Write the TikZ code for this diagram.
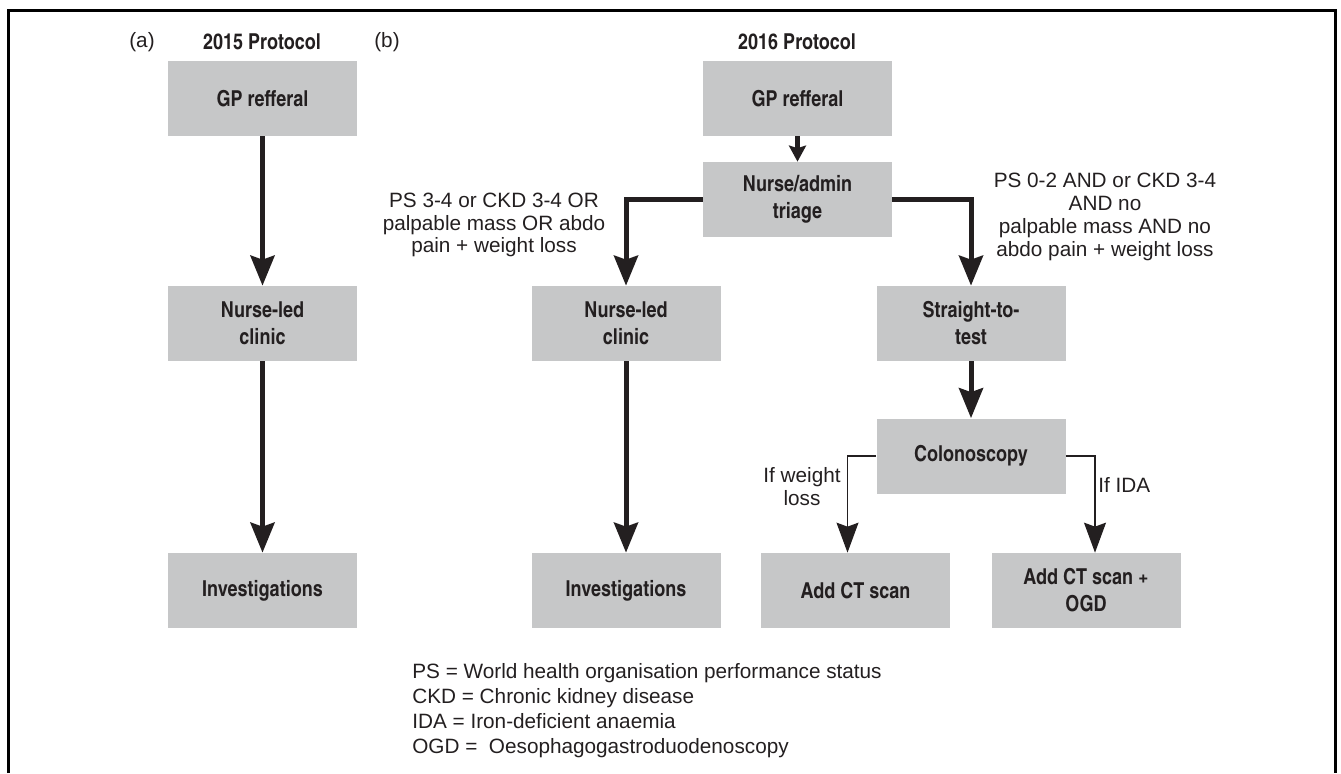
\documentclass[tikz,border=0pt]{standalone}
\usepackage{fontspec}
\setmainfont{Liberation Sans}
\newfontfamily\cnfont{texgyreheroscn}[Extension=.otf,UprightFont=*-regular,BoldFont=*-bold]
\usetikzlibrary{arrows.meta}
\definecolor{boxgray}{RGB}{198,199,200}
\definecolor{ink}{RGB}{35,31,32}

\begin{document}
\begin{tikzpicture}[x=0.2mm,y=-0.2mm,
  box/.style={fill=boxgray,minimum width=37.8mm,minimum height=15mm,inner sep=2pt,align=center,text=ink,font=\cnfont\bfseries\fontsize{12.5}{15.4}\selectfont},
  hdr/.style={text=ink,inner sep=0pt,font=\cnfont\bfseries\fontsize{12.5}{15.4}\selectfont},
  lbl/.style={align=center,text=ink,inner sep=0pt,font=\fontsize{11.8}{13}\selectfont},
  big/.style={line width=1mm,draw=ink,-{Stealth[length=6mm,width=4.8mm,inset=0.8mm]}},
  small/.style={line width=1mm,draw=ink,-{Stealth[length=3.2mm,width=3.4mm,inset=0.5mm]}},
  thin/.style={line width=0.25mm,draw=ink,-{Stealth[length=6mm,width=4.4mm,inset=0.8mm]}}]
\useasboundingbox (0,0) rectangle (1341,773);
\draw[line width=0.6mm] (8,773) -- (8,10) -- (1335,10) -- (1335,773);
% headings
\node[lbl] (hda) at (142,42) {(a)};
\node[hdr] (ttla) at (262,42) {2015 Protocol};
\node[lbl] (hdb) at (387,42) {(b)};
\node[hdr] (ttlb) at (797,42) {2016 Protocol};
% 2015 protocol
\node[box] (gpa) at (262.5,98.5) {GP refferal};
\node[box] (nursea) at (262.5,323.5) {Nurse-led\\clinic};
\node[box] (inva) at (262.5,590.5) {Investigations};
\draw[big] (gpa) -- (nursea);
\draw[big] (nursea) -- (inva);
% 2016 protocol
\node[box] (gpb) at (797.5,98.5) {GP refferal};
\node[box] (triage) at (797.5,199.5) {Nurse/admin\\triage};
\node[box] (nurseb) at (626,323.5) {Nurse-led\\clinic};
\node[box] (invb) at (626,590.5) {Investigations};
\node[box] (stt) at (971,323.5) {Straight-to-\\test};
\node[box] (colon) at (971,456) {Colonoscopy};
\node[box] (ct) at (855.5,590.5) {Add CT scan};
\node[box] (ctogd) at (1086,590.5) {Add CT scan +\\OGD};
\draw[small] (gpb) -- (triage);
\draw[big] (triage.west) -| (nurseb.north);
\draw[big] (triage.east) -| (stt.north);
\draw[big] (nurseb) -- (invb);
\draw[big] (stt) -- (colon);
\draw[thin] (colon.west) -| ([xshift=-1.6mm]ct.north);
\draw[thin] (colon.east) -| ([xshift=1.8mm]ctogd.north);
% conditions
\node[lbl] (condl) at (494,225) {PS 3-4 or CKD 3-4 OR\\palpable mass OR abdo\\pain + weight loss};
\node[lbl] (condr) at (1105,217) {PS 0-2 AND or CKD 3-4\\AND no\\palpable mass AND no\\abdo pain + weight loss};
\node[lbl] (ifwl) at (802,487) {If weight\\loss};
\node[lbl,anchor=west] (ifida) at (1098,485) {If IDA};
% key
\node[lbl,anchor=west,align=left,font=\fontsize{11.8}{14.2}\selectfont] (key) at (412,711)
  {PS = World health organisation performance status\\CKD = Chronic kidney disease\\IDA = Iron-deficient anaemia\\OGD = \ Oesophagogastroduodenoscopy};
\end{tikzpicture}
\end{document}
